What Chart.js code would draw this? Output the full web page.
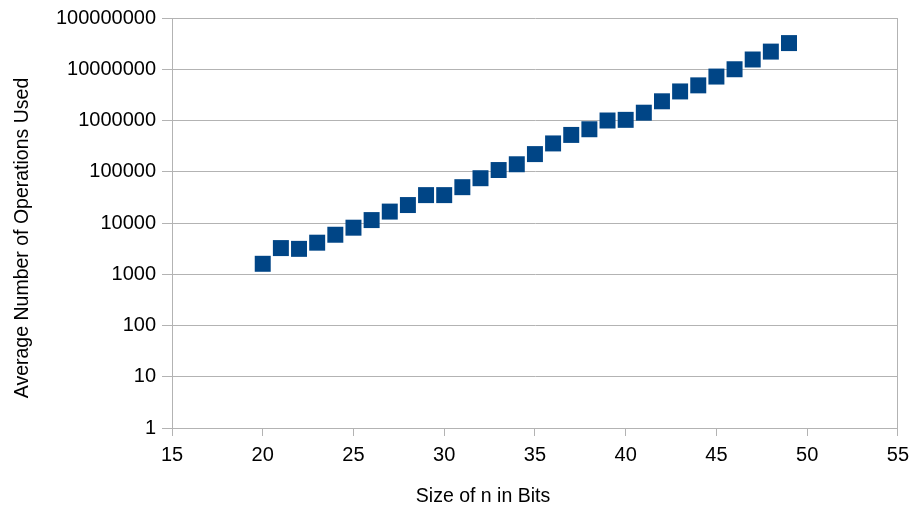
<!DOCTYPE html>
<html>
<head>
<meta charset="utf-8">
<script src="https://cdn.jsdelivr.net/npm/chart.js@4"></script>
<style>
  html, body { margin: 0; padding: 0; background: #fff; }
  #wrap { width: 916px; height: 508px; }
</style>
</head>
<body>
<div id="wrap"><canvas id="opsChart" width="916" height="508"></canvas></div>
<script>
let bits = [20, 21, 22, 23, 24, 25, 26, 27, 28, 29,
            30, 31, 32, 33, 34, 35, 36, 37, 38, 39,
            40, 41, 42, 43, 44, 45, 46, 47, 48, 49]
let ops = [1600, 3240, 3130, 4130, 5900, 8100, 11400, 16700, 22400, 35000,
           35000, 50000, 74800, 108000, 140000, 221000, 357000, 523000, 675000, 1000000,
           1030000, 1420000, 2370000, 3690000, 4850000, 7200000, 10000000, 15500000, 22100000, 32400000]
let yTicks = [1, 10, 100, 1000, 10000, 100000, 1000000, 10000000, 100000000]
let xTitle = 'Size of n in Bits'
let yTitle = 'Average Number of Operations Used'

let points = []
for (let i = 0; i < bits.length; i++) {
  points.push({ x: bits[i], y: ops[i] })
}

let family = "'Liberation Sans', Arial, sans-serif"
let tickFont = { family: family, size: 20 }
let lineColor = '#b3b3b3'

// axis titles are placed like the original (not centred on the plot area)
let axisTitles = {
  id: 'axisTitles',
  afterDraw(chart) {
    let c = chart.ctx
    c.save()
    c.fillStyle = '#000'
    c.font = '19.5px ' + family
    c.textAlign = 'center'
    c.textBaseline = 'alphabetic'
    c.fillText(xTitle, 483, 502)
    c.translate(27.5, 238)
    c.rotate(-Math.PI / 2)
    c.fillText(yTitle, 0, 0)
    c.restore()
  }
}

let ctx = document.getElementById('opsChart').getContext('2d')

let opsChart = new Chart(ctx, {
  type: 'scatter',
  data: {
    datasets: [{
      label: 'Operations',
      data: points,
      pointStyle: 'rect',
      pointRadius: 11.3,
      pointHoverRadius: 11.3,
      backgroundColor: '#004586',
      borderColor: '#004586',
      borderWidth: 0
    }]
  },
  options: {
    responsive: false,
    animation: false,
    layout: { padding: { left: 0, right: 16, top: 16, bottom: 0 } },
    plugins: {
      legend: { display: false },
      tooltip: { enabled: false }
    },
    scales: {
      x: {
        type: 'linear',
        min: 15,
        max: 55,
        afterFit: scale => { scale.height = 80 },
        ticks: { stepSize: 5, color: '#000', font: tickFont, padding: 7 },
        grid: {
          color: c => (c.tick && c.tick.value === 55) ? lineColor : 'rgba(0,0,0,0)',
          tickColor: lineColor,
          tickLength: 8
        },
        border: { color: lineColor }
      },
      y: {
        type: 'logarithmic',
        min: 1,
        max: 100000000,
        afterFit: scale => { scale.width = 172 },
        afterBuildTicks: scale => { scale.ticks = yTicks.map(v => ({ value: v })) },
        ticks: { color: '#000', font: tickFont, padding: 6, callback: v => String(v) },
        grid: { color: lineColor, tickColor: lineColor, tickLength: 10 },
        border: { color: lineColor }
      }
    }
  },
  plugins: [axisTitles]
})
</script>
</body>
</html>
